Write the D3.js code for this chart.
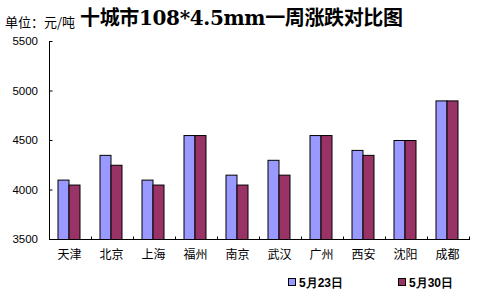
<!DOCTYPE html>
<html>
<head>
<meta charset="utf-8">
<script src="https://cdn.jsdelivr.net/npm/d3@7"></script>
<style>
  body { margin: 0; background: #fff; }
  text { font-family: "Liberation Sans", Arial, sans-serif; }
</style>
</head>
<body>
<div id="chart"></div>
<script>
const cities = ["天津", "北京", "上海", "福州", "南京", "武汉", "广州", "西安", "沈阳", "成都"];
const may23 = [4100, 4350, 4100, 4550, 4150, 4300, 4550, 4400, 4500, 4900];
const may30 = [4050, 4250, 4050, 4550, 4050, 4150, 4550, 4350, 4500, 4900];
const seriesNames = ["5月23日", "5月30日"];
const yTicks = [3500, 4000, 4500, 5000, 5500];

const W = 481, H = 294;
const colors = ["#9999ff", "#993366"];

const svg = d3.select("#chart").append("svg")
    .attr("width", W)
    .attr("height", H);

const x = d3.scaleBand().domain(cities).range([50, 470]);
const y = d3.scaleLinear().domain([3500, 5500]).range([239, 41]);

// title
svg.append("text")
    .attr("x", 5).attr("y", 27)
    .style("font-family", "'Noto Sans CJK SC', sans-serif")
    .style("font-size", "13px")
    .text("单位：元/吨");

svg.append("text")
    .attr("x", 80).attr("y", 25)
    .attr("textLength", 323)
    .attr("lengthAdjust", "spacing")
    .style("font-family", "'DejaVu Serif', 'Noto Sans CJK SC', serif")
    .style("font-size", "20px")
    .style("font-weight", "bold")
    .text("十城市108*4.5mm一周涨跌对比图");

// bars
const barW = 11;
const series = [may23, may30];
series.forEach((vals, si) => {
    svg.append("g").selectAll("rect")
        .data(cities)
        .join("rect")
        .attr("x", d => x(d) + x.bandwidth() / 2 - barW + si * barW - 2)
        .attr("y", (d, i) => y(vals[i]) + 0.5)
        .attr("width", barW)
        .attr("height", (d, i) => y(3500) - y(vals[i]))
        .attr("fill", colors[si])
        .attr("stroke", "#000")
        .attr("stroke-width", 1);
});

// y axis
const yAxis = d3.axisRight(y).tickValues(yTicks).tickSize(3).tickFormat("");
const yg = svg.append("g").attr("transform", "translate(49.5,0)").call(yAxis);
yg.selectAll("path,line").attr("stroke", "#000");
yg.select(".domain").attr("d", "M0," + y(5500) + "V" + (y(3500) + 0.5));

svg.append("g").selectAll("text")
    .data(yTicks)
    .join("text")
    .attr("x", 38).attr("y", d => y(d) + 4)
    .attr("text-anchor", "end")
    .style("font-size", "11.5px")
    .text(d => d);

// x axis
const xg = svg.append("g").attr("transform", "translate(0," + (y(3500) + 0.5) + ")");
xg.append("line").attr("x1", 49).attr("x2", 470).attr("stroke", "#000");
xg.selectAll("line.tick")
    .data(cities.concat(["end"]))
    .join("line")
    .attr("class", "tick")
    .attr("x1", d => Math.round(d === "end" ? x.range()[1] : x(d)) - 0.5)
    .attr("x2", d => Math.round(d === "end" ? x.range()[1] : x(d)) - 0.5)
    .attr("y1", 0).attr("y2", -3)
    .attr("stroke", "#000");

svg.append("g").selectAll("text")
    .data(cities)
    .join("text")
    .attr("x", d => x(d) + x.bandwidth() / 2 - 1.5)
    .attr("y", 259)
    .attr("text-anchor", "middle")
    .style("font-family", "'Noto Sans CJK SC', sans-serif")
    .style("font-size", "12px")
    .text(d => d);

// legend
const legendX = [288, 398];
seriesNames.forEach((name, i) => {
    svg.append("rect")
        .attr("x", legendX[i] + 0.5).attr("y", 278.5)
        .attr("width", 7).attr("height", 7)
        .attr("fill", colors[i])
        .attr("stroke", "#000");
    svg.append("text")
        .attr("x", legendX[i] + 11).attr("y", 287)
        .style("font-size", "12px")
        .style("font-weight", "bold")
        .text(name);
});
</script>
</body>
</html>
